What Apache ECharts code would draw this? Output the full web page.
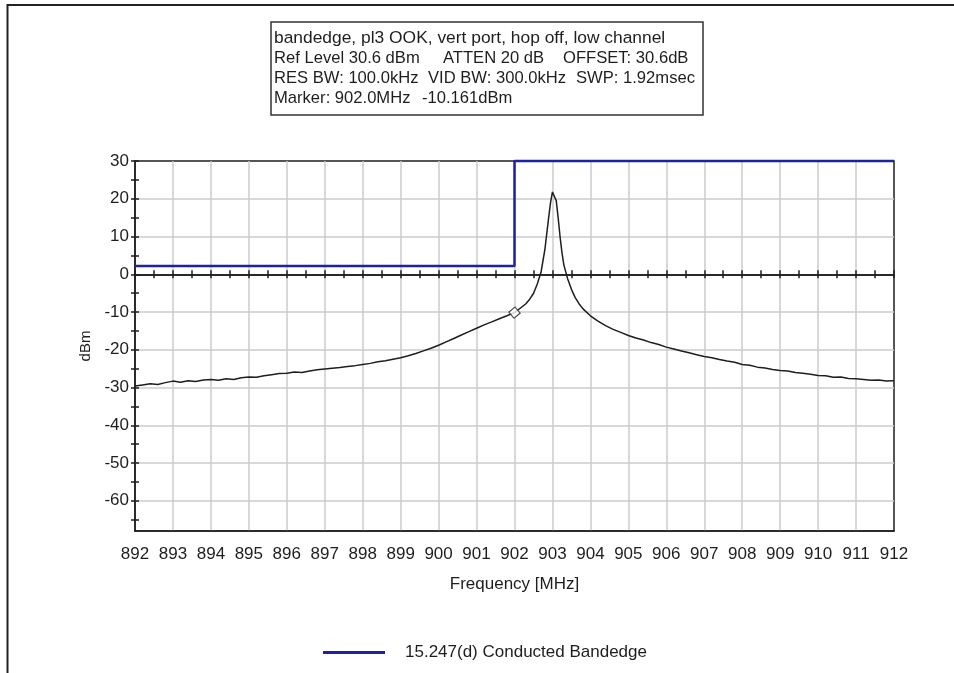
<!DOCTYPE html>
<html>
<head>
<meta charset="utf-8">
<script src="https://cdn.jsdelivr.net/npm/echarts@6/dist/echarts.min.js"></script>
<style>
  html, body { margin: 0; padding: 0; background: #fff; }
  #chart { width: 954px; height: 673px; }
</style>
</head>
<body>
<div id="chart"></div>
<script>
// Spectrum analyser sweep, 892–912 MHz
const freqMHz = [
  892.0, 892.2, 892.4, 892.6, 892.8, 893.0, 893.2, 893.4, 893.6, 893.8,
  894.0, 894.2, 894.4, 894.6, 894.8, 895.0, 895.2, 895.4, 895.6, 895.8,
  896.0, 896.2, 896.4, 896.6, 896.8, 897.0, 897.2, 897.4, 897.6, 897.8,
  898.0, 898.2, 898.4, 898.6, 898.8, 899.0, 899.2, 899.4, 899.6, 899.8,
  900.0, 900.2, 900.4, 900.6, 900.8, 901.0, 901.2, 901.4, 901.6, 901.8,
  902.0, 902.1, 902.2, 902.3, 902.4, 902.5, 902.6, 902.7, 902.8, 902.9,
  902.95, 903.0, 903.05, 903.1, 903.15, 903.2, 903.25, 903.3, 903.4, 903.5,
  903.6, 903.7, 903.8, 904.0, 904.2, 904.4, 904.6, 904.8, 905.0, 905.2,
  905.4, 905.6, 905.8, 906.0, 906.2, 906.4, 906.6, 906.8, 907.0, 907.2,
  907.4, 907.6, 907.8, 908.0, 908.2, 908.4, 908.6, 908.8, 909.0, 909.2,
  909.4, 909.6, 909.8, 910.0, 910.2, 910.4, 910.6, 910.8, 911.0, 911.2,
  911.4, 911.6, 911.8, 912.0
];
const traceDbm = [
  -29.6, -29.3, -29.0, -29.2, -28.7, -28.3, -28.6, -28.2, -28.4, -28.0,
  -27.9, -28.1, -27.7, -27.9, -27.4, -27.2, -27.3, -26.9, -26.6, -26.3,
  -26.2, -25.9, -26.0, -25.6, -25.3, -25.1, -24.9, -24.7, -24.4, -24.2,
  -23.9, -23.6, -23.2, -22.9, -22.5, -22.1, -21.6, -21.0, -20.3, -19.6,
  -18.8, -17.9, -17.0, -16.1, -15.2, -14.3, -13.4, -12.6, -11.8, -11.0,
  -10.161, -9.4, -8.6, -7.8, -6.6, -5.1, -2.6, 0.6, 6.5, 15.0,
  19.0, 21.8, 21.5, 19.5, 15.0, 10.0, 5.8, 2.5, -1.2, -4.0,
  -6.2, -7.8, -9.1, -11.0, -12.4, -13.6, -14.6, -15.4, -16.2, -16.9,
  -17.4, -18.1, -18.6, -19.3, -19.8, -20.3, -20.8, -21.3, -21.8, -22.1,
  -22.6, -23.0, -23.3, -23.9, -24.1, -24.6, -24.8, -25.2, -25.5, -25.6,
  -26.0, -26.2, -26.5, -26.8, -26.9, -27.3, -27.2, -27.6, -27.7, -27.9,
  -28.1, -28.0, -28.3, -28.2
];

// 15.247(d) conducted band-edge limit line
const limitName = '15.247(d) Conducted Bandedge';
const limitFreq = [892, 902, 902, 912];
const limitDbm = [2.2, 2.2, 30, 30];

// Marker
const markerFreq = 902.0;
const markerDbm = -10.161;

// Axis ticks
const yLabelValues = [-60, -50, -40, -30, -20, -10, 0, 10, 20, 30];
const yTickValues = [-65, -60, -55, -50, -45, -40, -35, -30, -25, -20, -15, -10, -5, 0, 5, 10, 15, 20, 25, 30];
const yGridValues = [-60, -50, -40, -30, -20, -10, 0, 10, 20];

// Analyser settings box: one row per line, each row split into fields
const infoRows = [
  ['bandedge, pl3 OOK, vert port, hop off, low channel'],
  ['Ref Level 30.6 dBm', 'ATTEN 20 dB', 'OFFSET: 30.6dB'],
  ['RES BW: 100.0kHz', 'VID BW: 300.0kHz', 'SWP: 1.92msec'],
  ['Marker: 902.0MHz', '-10.161dBm']
];
const infoFieldX = [
  [274],
  [274, 443, 563],
  [274, 428, 576],
  [274, 422]
];
const infoRowFont = [17.4, 16.6, 16.6, 16.6];

const FONT = '"Liberation Sans", Arial, sans-serif';
const INK = '#1e1e1e';
const BLUE = '#1e22a0';
const GRIDC = '#cbcbcb';

const tracePts = freqMHz.map((f, i) => [f, traceDbm[i]]);
const limitPts = limitFreq.map((f, i) => [f, limitDbm[i]]);

const infoTexts = [];
infoRows.forEach((row, r) => {
  row.forEach((txt, c) => {
    infoTexts.push({
      type: 'text', silent: true, z: 2,
      x: infoFieldX[r][c], y: 38 + r * 20,
      style: { text: txt, font: infoRowFont[r] + 'px ' + FONT, fill: INK, textVerticalAlign: 'middle' }
    });
  });
});

const chart = echarts.init(document.getElementById('chart'), null, { renderer: 'canvas' });

const yBase = { type: 'value', min: -68, max: 30, position: 'left' };
const xBase = { type: 'value', min: 892, max: 912, position: 'bottom' };

chart.setOption({
  animation: false,
  backgroundColor: '#ffffff',
  textStyle: { fontFamily: FONT },
  grid: {
    left: 135, right: 60, top: 161, bottom: 142,
    show: true, borderColor: INK, borderWidth: 1.5, backgroundColor: 'transparent'
  },
  graphic: [
    {
      type: 'rect', silent: true, z: 0,
      shape: { x: 7.5, y: 5, width: 1200, height: 1000 },
      style: { fill: 'none', stroke: '#222', lineWidth: 2 }
    },
    {
      type: 'rect', silent: true, z: 1,
      shape: { x: 271, y: 22, width: 432, height: 93 },
      style: { fill: '#fff', stroke: '#333', lineWidth: 1.5 }
    }
  ].concat(infoTexts),
  legend: {
    data: [limitName],
    left: 323, top: 644, padding: 0,
    icon: 'rect', itemWidth: 62, itemHeight: 3,
    textStyle: { fontSize: 17, color: INK, fontFamily: FONT, padding: [0, 0, 0, 15] }
  },
  xAxis: [
    Object.assign({}, xBase, {
      interval: 1,
      axisLine: { onZero: false, lineStyle: { color: INK, width: 1.5 } },
      axisTick: { show: false },
      axisLabel: { fontSize: 17, color: INK, margin: 15, fontFamily: FONT },
      splitLine: { show: true, showMinLine: false, showMaxLine: false, lineStyle: { color: GRIDC, width: 1.5 } },
      name: 'Frequency [MHz]', nameLocation: 'middle', nameGap: 45,
      nameTextStyle: { fontSize: 17, color: INK, fontFamily: FONT }
    }),
    Object.assign({}, xBase, {
      interval: 0.5,
      axisLine: { onZero: true, onZeroAxisIndex: 0, lineStyle: { color: INK, width: 1.5 } },
      axisTick: { show: true, inside: true, length: 4, lineStyle: { color: INK, width: 1.5 } },
      axisLabel: { show: false },
      splitLine: { show: false }
    }),
    Object.assign({}, xBase, {
      interval: 0.5,
      axisLine: { onZero: true, onZeroAxisIndex: 0, lineStyle: { color: INK, width: 1.5 } },
      axisTick: { show: true, inside: false, length: 4, lineStyle: { color: INK, width: 1.5 } },
      axisLabel: { show: false },
      splitLine: { show: false }
    })
  ],
  yAxis: [
    Object.assign({}, yBase, {
      axisLine: { show: true, onZero: false, lineStyle: { color: INK, width: 1.5 } },
      axisTick: { show: true, inside: false, length: 4, customValues: yTickValues, lineStyle: { color: INK, width: 1.5 } },
      axisLabel: { show: true, customValues: yLabelValues, fontSize: 17, color: INK, margin: 6, fontFamily: FONT },
      splitLine: { show: false },
      name: 'dBm', nameLocation: 'middle', nameGap: 39, nameRotate: 90,
      nameTextStyle: { fontSize: 15, color: INK, fontFamily: FONT }
    }),
    Object.assign({}, yBase, {
      axisLine: { show: false, onZero: false },
      axisTick: { show: true, inside: true, length: 4, customValues: yTickValues, lineStyle: { color: INK, width: 1.5 } },
      axisLabel: { show: false },
      splitLine: { show: false }
    }),
    Object.assign({}, yBase, {
      axisLine: { show: false, onZero: false },
      axisTick: { show: false, customValues: yGridValues },
      axisLabel: { show: false },
      splitLine: { show: true, lineStyle: { color: GRIDC, width: 1.5 } }
    })
  ],
  series: [
    {
      name: 'trace', type: 'line', xAxisIndex: 0, yAxisIndex: 0,
      data: tracePts, showSymbol: false, symbol: 'none',
      lineStyle: { color: INK, width: 1.5 }, z: 3
    },
    {
      name: limitName, type: 'line', xAxisIndex: 0, yAxisIndex: 0,
      data: limitPts, showSymbol: false, symbol: 'none', clip: false,
      itemStyle: { color: BLUE },
      lineStyle: { color: BLUE, width: 2.5 }, z: 4
    },
    {
      name: 'marker', type: 'scatter', xAxisIndex: 0, yAxisIndex: 0,
      data: [[markerFreq, markerDbm]],
      symbol: 'rect', symbolSize: 8, symbolRotate: 40,
      itemStyle: { color: '#ffffff', borderColor: INK, borderWidth: 1.2 }, z: 5
    }
  ]
});
</script>
</body>
</html>
